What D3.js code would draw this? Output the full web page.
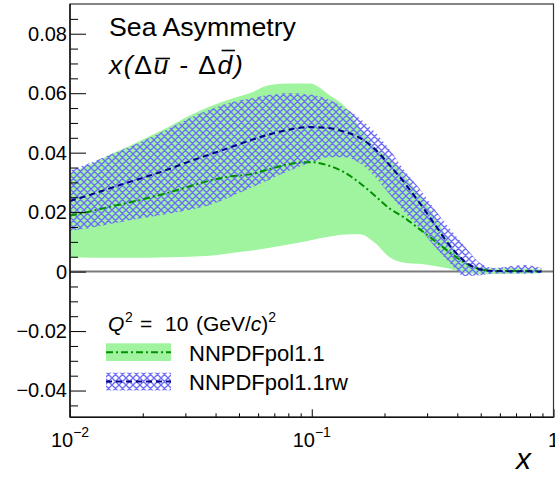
<!DOCTYPE html>
<html><head><meta charset="utf-8">
<script src="https://cdn.jsdelivr.net/npm/d3@7"></script>
<style>
body{margin:0;background:#fff}
svg{display:block}
text{font-family:"Liberation Sans",Arial,Helvetica,sans-serif;fill:#000}
</style>
</head><body>
<svg id="c" width="555" height="477"></svg>
<script>
// ---- data ----
const xValues = [0.010,0.0121,0.0146,0.0177,0.0214,0.0259,0.0313,0.0379,0.0458,0.0554,0.0671,0.0811,0.0981,0.119,0.137,0.158,0.182,0.210,0.242,0.280,0.322,0.372,0.429,0.495,0.571,0.658,0.759,0.892];
// NNPDFpol1.1 band and central value
const nnpdfUpper   = [0.0330,0.0360,0.0393,0.0423,0.0456,0.0489,0.0525,0.0555,0.0580,0.0600,0.0628,0.0633,0.0633,0.0592,0.0555,0.0485,0.0420,0.0380,0.0322,0.0255,0.0187,0.0100,0.0035,0.0015,0.0010,0.0012,0.0010,0.0008];
const nnpdfLower   = [0.0048,0.0047,0.0047,0.0047,0.0047,0.0048,0.0050,0.0053,0.0062,0.0070,0.0080,0.0092,0.0105,0.0118,0.0125,0.0126,0.0098,0.0048,0.0030,0.0026,0.0019,0.0010,-0.0003,-0.0008,-0.0008,-0.0007,-0.0007,-0.0005];
const nnpdfCentral = [0.0189,0.0202,0.0218,0.0233,0.0249,0.0267,0.0287,0.0306,0.0320,0.0327,0.0345,0.0362,0.0368,0.0355,0.0333,0.0298,0.0256,0.0212,0.0181,0.0142,0.0104,0.0065,0.0030,0.0008,0.0002,0.0002,0.0002,0.0001];
// NNPDFpol1.1rw band and central value
const rwUpper      = [0.0340,0.0365,0.0393,0.0420,0.0450,0.0483,0.0517,0.0545,0.0568,0.0582,0.0595,0.0600,0.0596,0.0577,0.0550,0.0515,0.0470,0.0410,0.0340,0.0278,0.0210,0.0145,0.0085,0.0030,0.0012,0.0018,0.0022,0.0012];
const rwLower      = [0.0137,0.0147,0.0160,0.0173,0.0184,0.0195,0.0208,0.0224,0.0250,0.0280,0.0310,0.0340,0.0365,0.0385,0.0385,0.0365,0.0320,0.0260,0.0200,0.0145,0.0085,0.0030,-0.0015,-0.0012,-0.0006,-0.0006,-0.0006,-0.0005];
const rwCentral    = [0.0238,0.0258,0.0280,0.0302,0.0323,0.0346,0.0371,0.0394,0.0417,0.0441,0.0462,0.0478,0.0486,0.0482,0.0470,0.0450,0.0413,0.0358,0.0298,0.0230,0.0160,0.0088,0.0035,0.0008,0.0002,0.0001,0.0001,0.0000];

const yMajorTicks = [-0.04,-0.02,0,0.02,0.04,0.06,0.08];
const yTickLabels = ["\u22120.04","\u22120.02","0","0.02","0.04","0.06","0.08"];
const yMinorTicks = [-0.045,-0.035,-0.03,-0.025,-0.015,-0.01,-0.005,0.005,0.01,0.015,0.025,0.03,0.035,0.045,0.05,0.055,0.065,0.07,0.075,0.085];
const xMajorTicks = [0.01,0.1,1];
const xTickBase = ["10","10","1"];
const xTickExp  = ["\u22122","\u22121",""];
const xMinorTicks = [0.02,0.03,0.04,0.05,0.06,0.07,0.08,0.09,0.2,0.3,0.4,0.5,0.6,0.7,0.8,0.9];
const legendLabels = ["NNPDFpol1.1","NNPDFpol1.1rw"];

// ---- layout ----
const L=70, R=553.5, T=4, B=417.3;
const svg = d3.select("#c");
const x = d3.scaleLog().domain([0.01,1]).range([L,R]);
const y = d3.scaleLinear().domain([-0.049,0.09]).range([B,T]);

const defs = svg.append("defs");
const hatch = defs.append("pattern").attr("id","hatch").attr("patternUnits","userSpaceOnUse")
  .attr("width",7).attr("height",7);
hatch.append("path").attr("d","M0,0L7,7M7,0L0,7M-1,6L1,8M6,-1L8,1M-1,1L1,-1M6,8L8,6")
  .attr("stroke","#6c6cf8").attr("stroke-width",1.35).attr("fill","none");
defs.append("clipPath").attr("id","plotclip").append("rect")
  .attr("x",L).attr("y",T).attr("width",R-L).attr("height",B-T);

const GREEN_FILL = "#a0f4a0";
const area = (lo,hi) => d3.area().x((d,i)=>x(xValues[i])).y0((d,i)=>y(lo[i])).y1((d,i)=>y(hi[i])).curve(d3.curveMonotoneX)(xValues);
const line = (c) => d3.line().x((d,i)=>x(xValues[i])).y((d,i)=>y(c[i])).curve(d3.curveMonotoneX)(xValues);

const plot = svg.append("g").attr("clip-path","url(#plotclip)");
// zero line
plot.append("line").attr("x1",L).attr("x2",R).attr("y1",y(0)).attr("y2",y(0))
  .attr("stroke","#7a7a7a").attr("stroke-width",2);
plot.append("path").attr("d",area(nnpdfLower,nnpdfUpper)).attr("fill",GREEN_FILL);
plot.append("path").attr("d",area(rwLower,rwUpper)).attr("fill","url(#hatch)");
plot.append("path").attr("d",line(nnpdfCentral)).attr("fill","none")
  .attr("stroke","#009000").attr("stroke-width",2).attr("stroke-dasharray","7,3,2,3");
plot.append("path").attr("d",line(rwCentral)).attr("fill","none")
  .attr("stroke","#000088").attr("stroke-width",2).attr("stroke-dasharray","6,4");

// ---- axes ----
const yAxis = svg.append("g").attr("transform",`translate(${L},0)`)
  .call(d3.axisLeft(y).tickValues(yMajorTicks).tickSize(-16).tickPadding(3)
    .tickFormat((d,i)=>yTickLabels[i]));
svg.append("g").attr("transform",`translate(${L},0)`)
  .call(d3.axisLeft(y).tickValues(yMinorTicks).tickSize(-8).tickFormat(""));
svg.append("g").attr("transform",`translate(0,${B})`)
  .call(d3.axisBottom(x).tickValues(xMajorTicks).tickSize(-8).tickFormat(""));
svg.append("g").attr("transform",`translate(0,${B})`)
  .call(d3.axisBottom(x).tickValues(xMinorTicks).tickSize(-4).tickFormat(""));
svg.selectAll(".domain").remove();
svg.selectAll(".tick line").attr("stroke","#000").attr("stroke-width",1);
yAxis.selectAll("text").style("font-size","20px").attr("font-family",null);

// x tick labels
xMajorTicks.forEach((v,i)=>{
  const t = svg.append("text").attr("x",x(v)).attr("y",446.5).attr("text-anchor","middle")
    .style("font-size","20px");
  t.append("tspan").text(xTickBase[i]);
  if (xTickExp[i]) t.append("tspan").attr("dy",-10).style("font-size","14px").text(xTickExp[i]);
});

// frame
svg.append("rect").attr("x",L).attr("y",T).attr("width",R-L).attr("height",B-T)
  .attr("fill","none").attr("stroke","#333").attr("stroke-width",1.2);
svg.append("line").attr("x1",L).attr("x2",L).attr("y1",T).attr("y2",B).attr("stroke","#111").attr("stroke-width",1.4);
svg.append("line").attr("x1",L).attr("x2",R).attr("y1",B).attr("y2",B).attr("stroke","#111").attr("stroke-width",1.6);

// axis title
svg.append("text").attr("x",531).attr("y",469).attr("text-anchor","end")
  .style("font-size","30px").style("font-style","italic").text("x");

// ---- titles ----
svg.append("text").attr("x",109).attr("y",35.5).style("font-size","26.7px").text("Sea Asymmetry");
const sub = svg.append("text").attr("x",109).attr("y",73.5).style("font-size","26.5px").style("letter-spacing","1.6px");
sub.append("tspan").style("font-style","italic").text("x(");
sub.append("tspan").text("\u0394");
sub.append("tspan").style("font-style","italic").text("u");
sub.append("tspan").style("font-style","italic").text(" - ");
sub.append("tspan").text("\u0394");
sub.append("tspan").style("font-style","italic").text("d");
sub.append("tspan").style("font-style","italic").text(")");
(function(){
  const node = sub.node();
  const eu = node.getExtentOfChar(3), ed = node.getExtentOfChar(8);
  svg.append("line").attr("x1",eu.x+2).attr("x2",eu.x+eu.width).attr("y1",58.5).attr("y2",58.5)
    .attr("stroke","#000").attr("stroke-width",1.6);
  svg.append("line").attr("x1",ed.x+4).attr("x2",ed.x+ed.width+1).attr("y1",50.5).attr("y2",50.5)
    .attr("stroke","#000").attr("stroke-width",1.6);
})();

// ---- legend ----
const q = svg.append("text").attr("y",331).style("font-size","21px");
q.append("tspan").attr("x",108).style("font-style","italic").text("Q");
q.append("tspan").attr("x",125).attr("dy",-9).style("font-size","14px").text("2");
q.append("tspan").attr("x",140).attr("dy",9).text("=");
q.append("tspan").attr("x",165).text("10");
q.append("tspan").attr("x",196).text("(GeV/");
q.append("tspan").style("font-style","italic").text("c");
q.append("tspan").text(")");
q.append("tspan").attr("dy",-9).style("font-size","14px").text("2");

const boxX=106, boxW=65, boxH=17.7, rowsY=[343.3,372.7];
svg.append("rect").attr("x",boxX).attr("y",rowsY[0]).attr("width",boxW).attr("height",boxH).attr("fill",GREEN_FILL);
svg.append("line").attr("x1",boxX).attr("x2",boxX+boxW).attr("y1",rowsY[0]+boxH/2).attr("y2",rowsY[0]+boxH/2)
  .attr("stroke","#009000").attr("stroke-width",2).attr("stroke-dasharray","7,3,2,3");
svg.append("rect").attr("x",boxX).attr("y",rowsY[1]).attr("width",boxW).attr("height",boxH).attr("fill","url(#hatch)");
svg.append("line").attr("x1",boxX).attr("x2",boxX+boxW).attr("y1",rowsY[1]+boxH/2).attr("y2",rowsY[1]+boxH/2)
  .attr("stroke","#000088").attr("stroke-width",2).attr("stroke-dasharray","6,4");
legendLabels.forEach((s,i)=>{
  svg.append("text").attr("x",189).attr("y",rowsY[i]+boxH).style("font-size","22px").text(s);
});
</script>
</body></html>
